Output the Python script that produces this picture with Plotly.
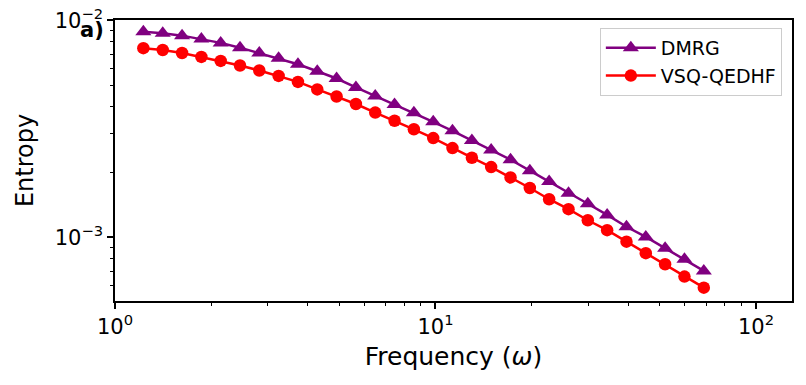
import plotly.graph_objects as go

# Frequencies (omega)
frequency = [1.226, 1.409, 1.619, 1.860, 2.137, 2.455, 2.820, 3.240, 3.723, 4.277,
             4.914, 5.646, 6.487, 7.453, 8.563, 9.840, 11.30, 12.99, 14.92, 17.15,
             19.70, 22.63, 26.01, 29.88, 34.33, 39.45, 45.32, 52.07, 59.83, 68.75]

dmrg = [8.88e-3, 8.73e-3, 8.51e-3, 8.22e-3, 7.88e-3, 7.49e-3, 7.08e-3, 6.70e-3, 6.28e-3, 5.83e-3,
        5.40e-3, 4.91e-3, 4.49e-3, 4.10e-3, 3.75e-3, 3.41e-3, 3.10e-3, 2.80e-3, 2.53e-3, 2.28e-3,
        2.03e-3, 1.81e-3, 1.60e-3, 1.43e-3, 1.27e-3, 1.12e-3, 1.005e-3, 8.92e-4, 7.93e-4, 7.01e-4]

vsq_qedhf = [7.45e-3, 7.31e-3, 7.08e-3, 6.79e-3, 6.51e-3, 6.20e-3, 5.88e-3, 5.55e-3, 5.21e-3, 4.81e-3,
             4.46e-3, 4.12e-3, 3.76e-3, 3.45e-3, 3.15e-3, 2.87e-3, 2.58e-3, 2.33e-3, 2.11e-3, 1.89e-3,
             1.69e-3, 1.50e-3, 1.35e-3, 1.20e-3, 1.08e-3, 9.56e-4, 8.46e-4, 7.52e-4, 6.60e-4, 5.87e-4]

x_tickvals = [1, 10, 100]
x_ticktext = ["10<sup>0</sup>", "10<sup>1</sup>", "10<sup>2</sup>"]
y_tickvals = [1e-3, 1e-2]
y_ticktext = ["10<sup>\u22123</sup>", "10<sup>\u22122</sup>"]

x_minor = [2, 3, 4, 5, 6, 7, 8, 9, 20, 30, 40, 50, 60, 70, 80, 90]
y_minor = [6e-4, 7e-4, 8e-4, 9e-4, 2e-3, 3e-3, 4e-3, 5e-3, 6e-3, 7e-3, 8e-3, 9e-3]

fig = go.Figure()

fig.add_trace(go.Scatter(
    x=frequency, y=dmrg, name="DMRG",
    mode="lines+markers",
    line=dict(color="#800080", width=2.5),
    marker=dict(symbol="triangle-up", size=14, color="#800080"),
))
fig.add_trace(go.Scatter(
    x=frequency, y=vsq_qedhf, name="VSQ-QEDHF",
    mode="lines+markers",
    line=dict(color="#ff0000", width=2.5),
    marker=dict(symbol="circle", size=12.5, color="#ff0000"),
))

axis_common = dict(
    type="log", automargin=False, ticklabeloverflow="allow",
    showline=True, mirror=True, linecolor="black", linewidth=1.5,
    showgrid=False, zeroline=False,
    ticks="outside", ticklen=6, tickwidth=1.5, tickcolor="black",
    tickfont=dict(family="DejaVu Sans", size=21, color="black"),
)

fig.update_xaxes(
    **axis_common,
    range=[0, 2.1125],
    tickmode="array", tickvals=x_tickvals, ticktext=x_ticktext,
    minor=dict(tickmode="array", tickvals=x_minor, ticks="outside",
               ticklen=3.5, tickwidth=1, tickcolor="black"),
    title=dict(text="Frequency (<i>\u03c9</i>)",
               font=dict(family="DejaVu Sans", size=25, color="black"), standoff=10),
)
fig.update_yaxes(
    **axis_common,
    range=[-3.293, -1.998],
    tickmode="array", tickvals=y_tickvals, ticktext=y_ticktext,
    minor=dict(tickmode="array", tickvals=y_minor, ticks="outside",
               ticklen=3.5, tickwidth=1, tickcolor="black"),
    title=dict(text="Entropy",
               font=dict(family="DejaVu Sans", size=24, color="black"), standoff=14),
)

fig.add_annotation(
    text="<b>a)</b>", xref="paper", yref="paper",
    x=-0.034, y=0.964, xanchor="center", yanchor="middle", showarrow=False,
    font=dict(family="DejaVu Sans", size=21, color="black"),
)

# page body keeps an 8px margin, so the figure is sized to the visible area
fig.update_layout(
    width=798, height=377,
    margin=dict(l=107, r=14, t=12, b=84),
    paper_bgcolor="white", plot_bgcolor="white",
    font=dict(family="DejaVu Sans", color="black"),
    legend=dict(
        x=0.985, y=0.9715, xanchor="right", yanchor="top",
        bgcolor="white", bordercolor="#cccccc", borderwidth=1,
        itemwidth=50,
        font=dict(family="DejaVu Sans", size=19, color="black"),
    ),
)

fig.write_html("out.html")
